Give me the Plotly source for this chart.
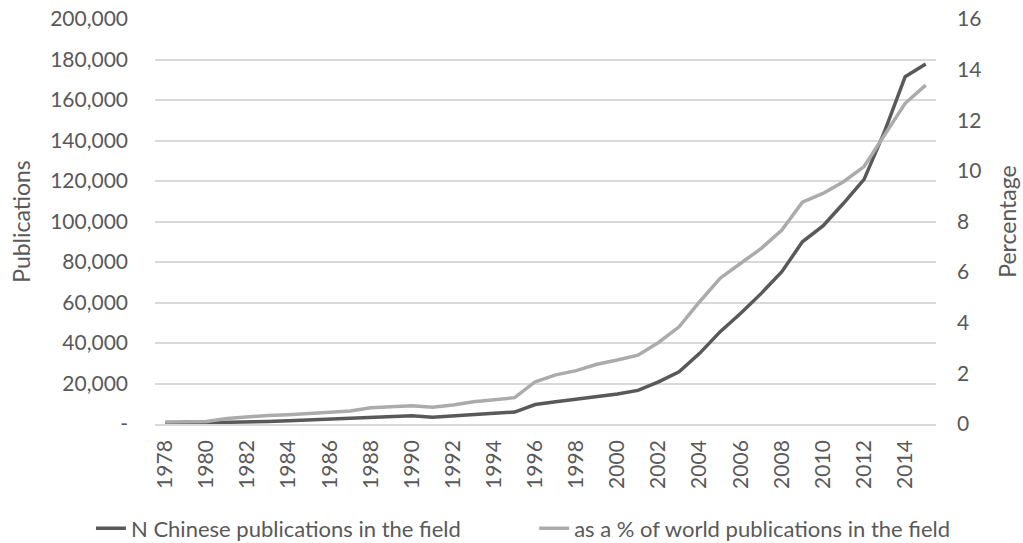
import plotly.graph_objects as go

years = list(range(1978, 2016))
publications = [300, 400, 500, 800, 1100, 1200, 1600, 2000, 2300, 2500,
                3000, 3600, 4100, 3300, 4100, 4800, 5300, 5900, 9600, 11000,
                12300, 13500, 14800, 16600, 20800, 25800, 34900, 45600, 54700, 64500,
                75200, 90000, 97800, 109000, 120800, 144500, 171500, 177800]
percentage = [0.08, 0.08, 0.10, 0.22, 0.29, 0.34, 0.37, 0.42, 0.47, 0.51,
              0.64, 0.68, 0.72, 0.66, 0.75, 0.88, 0.95, 1.04, 1.67, 1.94,
              2.11, 2.36, 2.53, 2.72, 3.22, 3.84, 4.83, 5.76, 6.35, 6.94,
              7.66, 8.76, 9.11, 9.57, 10.17, 11.42, 12.67, 13.39]

left_vals = [0, 20000, 40000, 60000, 80000, 100000, 120000, 140000, 160000, 180000, 200000]
left_text = ["-", "20,000", "40,000", "60,000", "80,000", "100,000", "120,000",
             "140,000", "160,000", "180,000", "200,000"]
right_vals = [0, 2, 4, 6, 8, 10, 12, 14, 16]

name_pub = "N Chinese publications in the field"
name_pct = "as a % of world publications in the field"

FONT = "Lato, 'Open Sans', sans-serif"
TXT = "#595959"
TICK = 21

fig = go.Figure()
fig.add_trace(go.Scatter(x=years, y=publications, name=name_pub, mode="lines",
                         line=dict(color="#595959", width=3.5), yaxis="y", legend="legend"))
fig.add_trace(go.Scatter(x=years, y=percentage, name=name_pct, mode="lines",
                         line=dict(color="#ababab", width=3.5), yaxis="y2", legend="legend2"))

leg_common = dict(orientation="h", yanchor="middle", y=-0.258, xanchor="left",
                  font=dict(size=22, color=TXT), bgcolor="rgba(0,0,0,0)", itemwidth=30)

fig.update_layout(
    width=1023, height=543,
    margin=dict(l=155, r=87, t=19, b=119, autoexpand=False),
    paper_bgcolor="white", plot_bgcolor="white",
    font=dict(family=FONT, size=TICK, color=TXT),
    showlegend=True,
    legend=dict(x=-0.082, **leg_common),
    legend2=dict(x=0.4855, **leg_common),
    xaxis=dict(range=[1977.5, 2015.5], tickmode="array",
               tickvals=years[::2], ticktext=[str(y) for y in years[::2]],
               tickangle=-90, showgrid=False, zeroline=False,
               showline=True, linecolor="#d9d9d9", linewidth=1.5,
               ticks="", ticklabelstandoff=6, tickfont=dict(size=TICK, color=TXT)),
    yaxis=dict(range=[0, 200000], tickmode="array", tickvals=left_vals, ticktext=left_text,
               showgrid=True, gridcolor="#d9d9d9", gridwidth=1.5, zeroline=False,
               showline=False, ticks="", ticklabelstandoff=26, ticklabeloverflow="allow",
               tickfont=dict(size=TICK, color=TXT),
               title=dict(text="Publications", font=dict(size=23, color=TXT), standoff=13)),
    yaxis2=dict(range=[0, 16], tickmode="array", tickvals=right_vals,
                overlaying="y", side="right", showgrid=False, zeroline=False,
                showline=False, ticks="", ticklabelstandoff=20, ticklabeloverflow="allow",
                tickfont=dict(size=TICK, color=TXT),
                title=dict(text="Percentage", font=dict(size=23, color=TXT), standoff=19)),
)

fig.write_html("out.html", config={"displayModeBar": False},
               post_script="document.body.style.margin='0';")
